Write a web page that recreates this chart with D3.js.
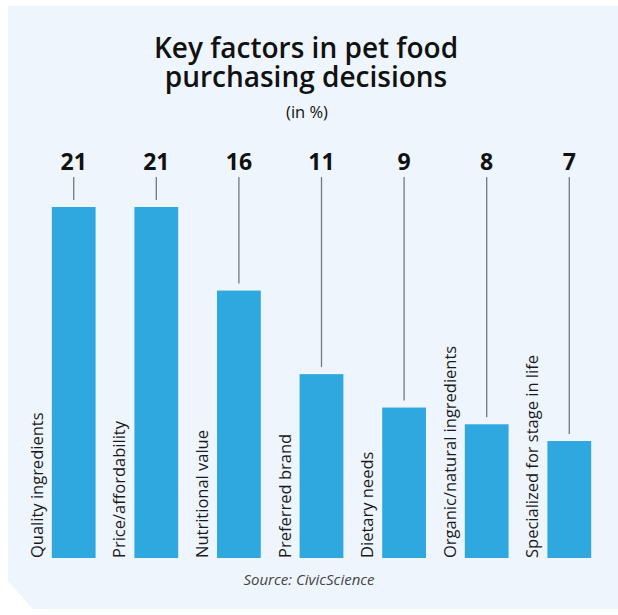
<!DOCTYPE html>
<html>
<head>
<meta charset="utf-8">
<script src="https://cdn.jsdelivr.net/npm/d3@7"></script>
<style>
  body { margin: 0; background: #fff; }
  svg { display: block; font-family: "Open Sans", "Noto Sans", sans-serif; }
</style>
</head>
<body>
<svg id="chart" width="618" height="615"></svg>
<script>
// data
var categories = ["Quality ingredients", "Price/affordability", "Nutritional value",
  "Preferred brand", "Dietary needs", "Organic/natural ingredients", "Specialized for stage in life"];
var values = [21, 21, 16, 11, 9, 8, 7];
var titleLines = ["Key factors in pet food", "purchasing decisions"];
var subtitle = "(in %)";
var source = "Source: CivicScience";

var svg = d3.select("#chart");

// background panel with cut bottom-left corner
svg.append("path")
  .attr("d", "M8,6 L618,6 L618,609 L33,609 L8,581 Z")
  .attr("fill", "#eef5fd");

var x = d3.scaleBand()
  .domain(categories)
  .range([13, 630])
  .padding(0.47);

var y = d3.scaleLinear()
  .domain([0, 21])
  .range([558, 207]);

// title (one text, two lines)
var title = svg.append("text")
  .attr("y", 58)
  .attr("text-anchor", "middle")
  .attr("font-size", 28)
  .attr("font-weight", 600)
  .attr("fill", "#111");
title.selectAll("tspan")
  .data(titleLines)
  .enter().append("tspan")
    .attr("x", 306)
    .attr("dy", function(d, i) { return i ? 29 : 0; })
    .text(function(d) { return d; });

svg.append("text")
  .attr("x", 307)
  .attr("y", 118)
  .attr("text-anchor", "middle")
  .attr("font-size", 16.5)
  .attr("fill", "#111")
  .text(subtitle);

var rows = categories.map(function(c, i) { return {cat: c, val: values[i]}; });

// bars
svg.selectAll(".bar")
  .data(rows)
  .enter().append("rect")
    .attr("class", "bar")
    .attr("x", function(d) { return x(d.cat); })
    .attr("width", x.bandwidth())
    .attr("y", function(d) { return y(d.val); })
    .attr("height", function(d) { return y(0) - y(d.val); })
    .attr("fill", "#2ea8df");

// leader lines
svg.selectAll(".leader")
  .data(rows)
  .enter().append("line")
    .attr("class", "leader")
    .attr("x1", function(d) { return x(d.cat) + x.bandwidth() / 2; })
    .attr("x2", function(d) { return x(d.cat) + x.bandwidth() / 2; })
    .attr("y1", 177)
    .attr("y2", function(d) { return y(d.val) - 7; })
    .attr("stroke", "#777")
    .attr("stroke-width", 1.3);

// value labels
svg.selectAll(".val")
  .data(rows)
  .enter().append("text")
    .attr("class", "val")
    .attr("x", function(d) { return x(d.cat) + x.bandwidth() / 2; })
    .attr("y", 170)
    .attr("text-anchor", "middle")
    .attr("font-size", 23)
    .attr("font-weight", 700)
    .attr("fill", "#111")
    .text(function(d) { return d.val; });

// category labels, rotated
svg.selectAll(".cat")
  .data(rows)
  .enter().append("text")
    .attr("class", "cat")
    .attr("transform", function(d) {
      return "translate(" + (x(d.cat) - 9) + "," + y(0) + ") rotate(-90)";
    })
    .attr("font-size", 16.5)
    .attr("fill", "#1a1a1a")
    .text(function(d) { return d.cat; });

// source
svg.append("text")
  .attr("x", 309)
  .attr("y", 585)
  .attr("text-anchor", "middle")
  .attr("font-size", 15)
  .attr("font-style", "italic")
  .attr("fill", "#444")
  .text(source);
</script>
</body>
</html>
